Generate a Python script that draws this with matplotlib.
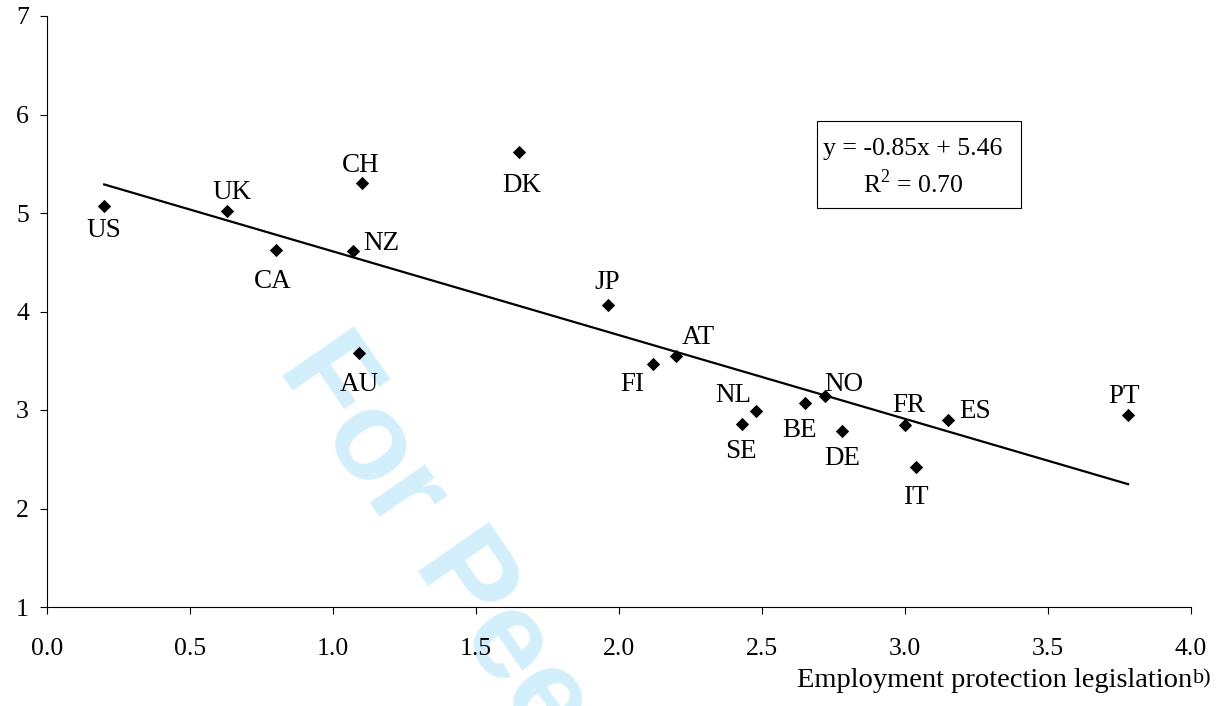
import numpy as np
import matplotlib.pyplot as plt
from matplotlib.patches import Rectangle

plt.rcParams['font.family'] = 'Liberation Serif'
plt.rcParams['mathtext.fontset'] = 'custom'
plt.rcParams['mathtext.rm'] = 'Liberation Serif'

countries = ['US', 'UK', 'CA', 'CH', 'NZ', 'DK', 'AU', 'JP', 'FI', 'AT',
             'NL', 'SE', 'BE', 'NO', 'DE', 'FR', 'ES', 'IT', 'PT']
epl = [0.20, 0.63, 0.80, 1.10, 1.07, 1.65, 1.09, 1.96, 2.12, 2.20,
       2.48, 2.43, 2.65, 2.72, 2.78, 3.00, 3.15, 3.04, 3.78]
yval = [5.07, 5.02, 4.62, 5.30, 4.61, 5.62, 3.58, 4.07, 3.47, 3.55,
        2.99, 2.86, 3.07, 3.14, 2.79, 2.85, 2.90, 2.42, 2.95]

# trend line as printed in the chart
slope = -0.85
intercept = 5.46
r2 = 0.70

# label offsets from the marker, in pixels (dx, dy up)
label_offsets = [(0, -22), (5, 21), (-3, -29), (-1, 20), (28, 10), (3, -31),
                 (1, -29), (0, 25), (-21, -18), (22, 21), (-23, 18), (-1, -25),
                 (-5, -25), (19, 14), (0, -25), (4, 22), (27, 11), (-1, -28),
                 (-4, 21)]

fs = 18.5
fs_lab = 19.5
W, H = 1225, 706
fig = plt.figure(figsize=(W / 100, H / 100), dpi=100)
ax = fig.add_axes([47 / W, 1 - 607 / H, 1144 / W, 591 / H])
ax.patch.set_alpha(0)

# watermark
fig.text(276.8 / W, 1 - 368.6 / H, 'For Peer Review', rotation=-55.4,
         rotation_mode='anchor', ha='left', va='baseline', fontsize=90.7,
         fontweight='bold', family='Liberation Sans', color='#d3effc', zorder=-1)

ax.scatter(epl, yval, marker='D', s=46, color='black', zorder=3, linewidths=0)

xs = np.array([min(epl), max(epl)])
ax.plot(xs, slope * xs + intercept, color='black', lw=1.6, zorder=2)

for c, x, y, (dx, dy) in zip(countries, epl, yval, label_offsets):
    ax.annotate(c, (x, y), xytext=(dx * 0.72, (dy - 9) * 0.72),
                textcoords='offset points', ha='center', va='baseline', fontsize=fs_lab)

ax.set_xlim(0, 4)
ax.set_ylim(1, 7)
ax.set_xticks(np.arange(0, 4.01, 0.5))
ax.set_xticklabels([f'{t:.1f}' for t in np.arange(0, 4.01, 0.5)])
ax.set_yticks(range(1, 8))
ax.spines['top'].set_visible(False)
ax.spines['right'].set_visible(False)
for s in ['left', 'bottom']:
    ax.spines[s].set_linewidth(0.8)
ax.tick_params(axis='both', direction='out', length=5, width=0.8, labelsize=fs)
ax.tick_params(axis='x', pad=17)
ax.tick_params(axis='y', pad=8)

# equation box
fig.patches.append(Rectangle((816.7 / W, 1 - 208 / H), 204 / W, 87 / H,
                             transform=fig.transFigure, fill=False,
                             edgecolor='black', lw=0.8))
fig.text(913 / W, 1 - 155 / H, f'y = {slope:.2f}x + {intercept:.2f}',
         ha='center', va='baseline', fontsize=fs)
fig.text(913 / W, 1 - 193 / H, f'R$^2$ = {r2:.2f}',
         ha='center', va='baseline', fontsize=fs)

fig.text(1192 / W, 1 - 687 / H, 'Employment protection legislation',
         ha='right', va='baseline', fontsize=20.5)
fig.text(1193 / W, 1 - 683 / H, 'b)', ha='left', va='baseline', fontsize=16)

fig.savefig('out.png', dpi=100)
